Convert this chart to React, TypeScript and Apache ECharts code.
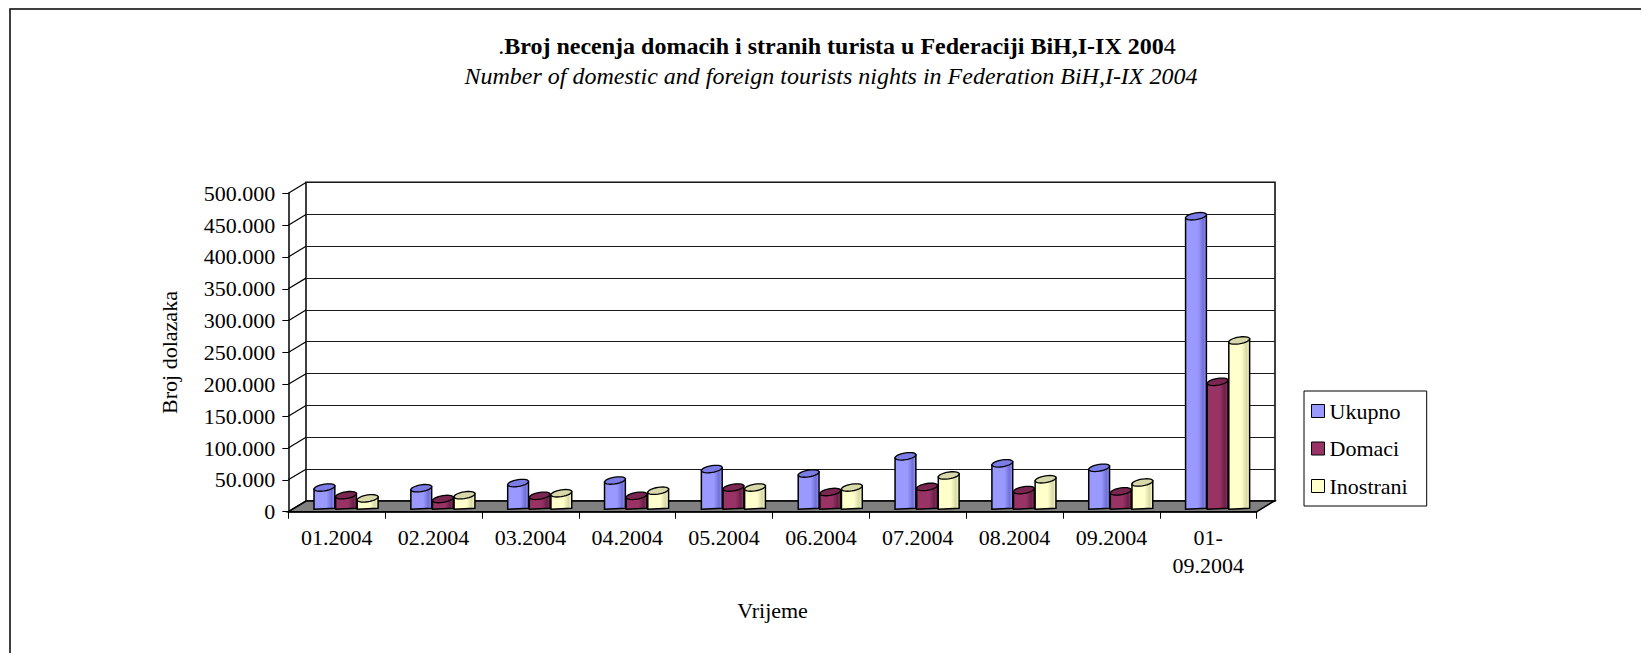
import React, { useEffect, useRef } from 'react';
import * as echarts from 'echarts';

const categories = ['01.2004', '02.2004', '03.2004', '04.2004', '05.2004', '06.2004', '07.2004', '08.2004', '09.2004', '01-\n09.2004'];
const seriesNames = ['Ukupno', 'Domaci', 'Inostrani'];
const ukupno = [29000, 28000, 36000, 40000, 58000, 51000, 78000, 67000, 60000, 455000];
const domaci = [17000, 11000, 16000, 16000, 29000, 22000, 30000, 25000, 23000, 195000];
const inostrani = [12000, 17000, 20000, 24000, 29000, 29000, 48000, 42000, 37000, 260000];
const yTicks = [0, 50000, 100000, 150000, 200000, 250000, 300000, 350000, 400000, 450000, 500000];

const titleBold = 'Broj necenja domacih i stranih turista u Federaciji BiH,I-IX 200';
const subTitle = 'Number of domestic and foreign tourists nights in Federation BiH,I-IX 2004';
const yName = 'Broj dolazaka';
const xName = 'Vrijeme';

const FONT = '"Liberation Serif", "Times New Roman", serif';
const DX = 17.7;
const DY = 10.7;
const LABEL_SIZE = 22;
const TITLE_SIZE = 24;

const palette = [
  { body: '#9999FF', dark: '#6f6fd6', cap: '#7c7ce6' },
  { body: '#993366', dark: '#6a2146', cap: '#7a2650' },
  { body: '#FFFFCC', dark: '#d9d9a8', cap: '#d8d8aa' },
];

const fmt = (v: number) => String(v).replace(/\B(?=(\d{3})+(?!\d))/g, '.');

export default function App() {
  const ref = useRef<HTMLDivElement>(null);
  useEffect(() => {
    document.body.style.margin = '0';
    if (!ref.current) return;
    const chart = echarts.init(ref.current, null, { renderer: 'svg' });
    const valuesList = [ukupno, domaci, inostrani];

    const barSeries = valuesList.map((vals, s) => ({
      type: 'custom',
      name: seriesNames[s],
      xAxisIndex: 1,
      yAxisIndex: 1,
      z: 3,
      silent: true,
      itemStyle: { color: palette[s].body, borderColor: '#000', borderWidth: 1 },
      data: vals.map((v, i) => [i, v]),
      renderItem: (params: any, api: any) => {
        const i = api.value(0);
        const v = api.value(1);
        const top = api.coord([i, v]);
        const base = api.coord([i, 0]);
        const catW = api.size([1, 0])[0];
        const bw = catW * 0.215;
        const shift = catW * 0.088;
        const x = top[0] - 1.5 * bw + s * (bw + 0.8) + shift;
        const cx = x + bw / 2;
        const cy = top[1] - 5.7;
        const yBot = base[1] - 3.4;
        const k = 0.15;
        const ry = 3.4;
        const capPts: number[][] = [];
        for (let t = 0; t < 28; t++) {
          const a = (t / 28) * Math.PI * 2;
          const px = cx + (bw / 2) * Math.cos(a);
          const py = cy + ry * Math.sin(a) - (px - cx) * k;
          capPts.push([px, py]);
        }
        const bodyPts = [
          [x, cy + (bw / 2) * k],
          [x + bw, cy - (bw / 2) * k],
          [x + bw, yBot],
          [x, yBot + 1],
        ];
        const c = palette[s];
        return {
          type: 'group',
          children: [
            {
              type: 'polygon',
              shape: { points: bodyPts },
              style: {
                fill: new echarts.graphic.LinearGradient(0, 0, 1, 0, [
                  { offset: 0, color: c.body },
                  { offset: 0.6, color: c.body },
                  { offset: 0.85, color: c.dark },
                  { offset: 1, color: c.body },
                ]),
                stroke: '#000',
                lineWidth: 1.5,
              },
            },
            {
              type: 'polygon',
              shape: { points: capPts },
              style: { fill: c.cap, stroke: '#000', lineWidth: 1.3 },
            },
          ],
        };
      },
    }));

    const option: any = {
      animation: false,
      backgroundColor: '#fff',
      title: [
        {
          text: '{n|.}{b|' + titleBold + '}{n|4}',
          left: 837,
          top: 34,
          textAlign: 'center',
          padding: 0,
          textStyle: {
            rich: {
              b: { fontFamily: FONT, fontSize: TITLE_SIZE, fontWeight: 'bold', color: '#000' },
              n: { fontFamily: FONT, fontSize: TITLE_SIZE, fontWeight: 'normal', color: '#000' },
            },
          },
        },
        {
          text: subTitle,
          left: 831,
          top: 64,
          textAlign: 'center',
          padding: 0,
          textStyle: { fontFamily: FONT, fontSize: TITLE_SIZE, fontStyle: 'italic', fontWeight: 'normal', color: '#000' },
        },
      ],
      legend: {
        orient: 'vertical',
        left: 1304,
        top: 391,
        data: seriesNames,
        icon: 'rect',
        itemWidth: 13,
        itemHeight: 13,
        itemGap: 15.5,
        padding: [9, 19, 9, 7],
        borderColor: '#000',
        borderWidth: 1,
        backgroundColor: '#fff',
        itemStyle: { borderColor: '#000', borderWidth: 1 },
        textStyle: { fontFamily: FONT, fontSize: LABEL_SIZE, color: '#000' },
      },
      graphic: [
        {
          type: 'rect',
          silent: true,
          shape: { x: 10, y: 9, width: 1700, height: 700 },
          style: { fill: 'none', stroke: '#000', lineWidth: 1.5 },
        },
      ],
      grid: [
        { left: 306, top: 182.3, width: 969, height: 318.7, show: true, borderColor: '#000', borderWidth: 1.5, backgroundColor: 'transparent' },
        { left: 288.3, top: 193.3, width: 968.4, height: 318.4 },
      ],
      xAxis: [
        { type: 'category', gridIndex: 0, data: categories, show: false },
        {
          type: 'category',
          gridIndex: 1,
          data: categories,
          axisLine: { show: true, lineStyle: { color: '#000', width: 1.5 } },
          axisTick: { show: true, length: 7, alignWithLabel: false, lineStyle: { color: '#000', width: 1 } },
          axisLabel: { interval: 0, fontFamily: FONT, fontSize: LABEL_SIZE, color: '#000', margin: 12, lineHeight: 28 },
          name: xName,
          nameLocation: 'middle',
          nameGap: 88,
          nameTextStyle: { fontFamily: FONT, fontSize: LABEL_SIZE, color: '#000' },
        },
      ],
      yAxis: [
        {
          type: 'value',
          gridIndex: 0,
          min: 0,
          max: 500000,
          interval: 50000,
          axisLine: { show: false },
          axisTick: { show: false },
          axisLabel: { show: false },
          splitLine: { show: true, lineStyle: { color: '#1a1a1a', width: 1.2 } },
        },
        {
          type: 'value',
          gridIndex: 1,
          min: 0,
          max: 500000,
          interval: 50000,
          axisLine: { show: true, lineStyle: { color: '#000', width: 1.5 } },
          axisTick: { show: true, length: 6, lineStyle: { color: '#000', width: 1 } },
          axisLabel: { formatter: fmt, fontFamily: FONT, fontSize: LABEL_SIZE, color: '#000', margin: 13 },
          splitLine: { show: false },
          name: yName,
          nameLocation: 'middle',
          nameGap: 108,
          nameTextStyle: { fontFamily: FONT, fontSize: LABEL_SIZE, color: '#000' },
        },
      ],
      series: [
        {
          type: 'custom',
          name: 'floor',
          xAxisIndex: 1,
          yAxisIndex: 1,
          z: 1,
          silent: true,
          data: [[0, 0]],
          renderItem: (params: any, api: any) => {
            const catW = api.size([1, 0])[0];
            const p0 = api.coord([0, 0]);
            const p9 = api.coord([categories.length - 1, 0]);
            const xL = p0[0] - catW / 2;
            const xR = p9[0] + catW / 2;
            const y = p0[1];
            return {
              type: 'polygon',
              shape: { points: [[xL, y], [xR, y], [xR + DX, y - DY], [xL + DX, y - DY]] },
              style: { fill: '#808080', stroke: '#000', lineWidth: 1.5 },
            };
          },
        },
        {
          type: 'custom',
          name: 'wall',
          xAxisIndex: 1,
          yAxisIndex: 1,
          z: 1,
          silent: true,
          data: yTicks.map((v) => [0, v]),
          renderItem: (params: any, api: any) => {
            const catW = api.size([1, 0])[0];
            const p = api.coord([0, api.value(1)]);
            const xL = p[0] - catW / 2;
            return {
              type: 'line',
              shape: { x1: xL, y1: p[1], x2: xL + DX, y2: p[1] - DY },
              style: { stroke: '#000', lineWidth: 1.2 },
            };
          },
        },
        ...barSeries,
      ],
    };
    chart.setOption(option);
    return () => chart.dispose();
  }, []);
  return <div ref={ref} style={{ width: 1641, height: 653, overflow: 'hidden' }} />;
}
